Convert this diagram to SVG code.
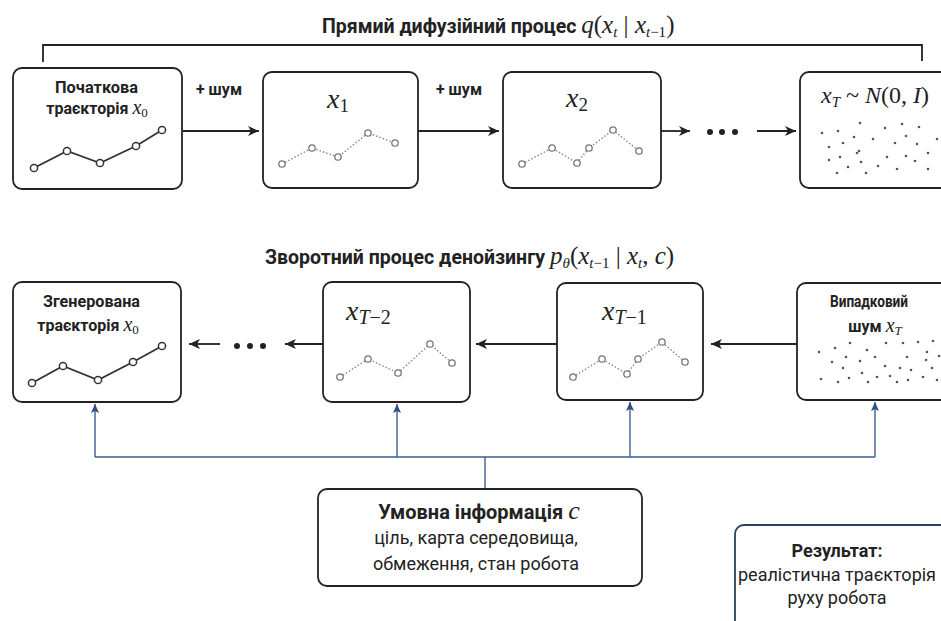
<svg xmlns="http://www.w3.org/2000/svg" width="941" height="621" viewBox="0 0 941 621">
<defs>
<style>
.box{fill:#fff;stroke:#222;stroke-width:1.8}
.lbl{font-family:Roboto,"Liberation Sans",sans-serif;font-weight:700;font-size:16px;fill:#222;text-anchor:middle}
.title{font-family:Roboto,"Liberation Sans",sans-serif;font-weight:700;font-size:19.5px;fill:#222;text-anchor:start}
.m{font-family:"Liberation Serif","DejaVu Serif",serif;font-style:italic;font-weight:400}
.r{font-family:"Liberation Serif","DejaVu Serif",serif;font-style:normal;font-weight:400}
.big{font-family:"Liberation Serif","DejaVu Serif",serif;font-style:italic;font-size:28px;fill:#222;text-anchor:start}
.txt{font-family:Roboto,"Liberation Sans",sans-serif;font-size:18px;fill:#222;text-anchor:middle}
.conn{fill:none;stroke:#222;stroke-width:1.8}
.blue{fill:none;stroke:#3b5e94;stroke-width:1.4}
.solid{fill:none;stroke:#333;stroke-width:1.8}
.dot{fill:none;stroke:#888;stroke-width:1.4;stroke-dasharray:1.5 2}
.pt{fill:#fff;stroke:#333;stroke-width:1.5}
.pg{fill:#fff;stroke:#777;stroke-width:1.3}
.n{fill:#555}
</style>
<marker id="ah" markerUnits="userSpaceOnUse" markerWidth="12" markerHeight="12" refX="11" refY="6" orient="auto">
<path d="M0,1 L11,6 L0,11 L3,6 Z" fill="#222"/>
</marker>
<marker id="bh" markerUnits="userSpaceOnUse" markerWidth="10" markerHeight="12" refX="9" refY="5" orient="auto">
<path d="M0,1 L9,5 L0,9 L2,5 Z" fill="#2f4f80"/>
</marker>
</defs>
<rect width="941" height="621" fill="#fff"/>

<!-- titles -->
<text class="title" x="322" y="33">Прямий дифузійний процес <tspan class="m" font-size="25">q</tspan><tspan class="r" font-size="25">(</tspan><tspan class="m" font-size="25">x</tspan><tspan class="m" font-size="15" dy="4">t</tspan><tspan class="r" font-size="25" dy="-4"> | </tspan><tspan class="m" font-size="25">x</tspan><tspan class="m" font-size="15" dy="4">t</tspan><tspan class="r" font-size="15">−1</tspan><tspan class="r" font-size="25" dy="-4">)</tspan></text>
<text class="title" x="265" y="264">Зворотний процес денойзингу <tspan class="m" font-size="25">p</tspan><tspan class="m" font-size="15" dy="4">θ</tspan><tspan class="r" font-size="25" dy="-4">(</tspan><tspan class="m" font-size="25">x</tspan><tspan class="m" font-size="15" dy="4">t</tspan><tspan class="r" font-size="15">−1</tspan><tspan class="r" font-size="25" dy="-4"> | </tspan><tspan class="m" font-size="25">x</tspan><tspan class="m" font-size="15" dy="4">t</tspan><tspan class="r" font-size="25" dy="-4">, </tspan><tspan class="m" font-size="25">c</tspan><tspan class="r" font-size="25">)</tspan></text>

<!-- connectors -->
<g id="connectors">
<path class="conn" d="M43,62 V45 H922 V61"/>
<line class="conn" x1="183" y1="131" x2="259" y2="131" marker-end="url(#ah)"/>
<line class="conn" x1="418" y1="131" x2="499" y2="131" marker-end="url(#ah)"/>
<line class="conn" x1="661" y1="131" x2="690" y2="131" marker-end="url(#ah)"/>
<line class="conn" x1="757" y1="131" x2="796" y2="131" marker-end="url(#ah)"/>
<line class="conn" x1="797" y1="344" x2="711" y2="344" marker-end="url(#ah)"/>
<line class="conn" x1="557" y1="344" x2="476" y2="344" marker-end="url(#ah)"/>
<line class="conn" x1="323" y1="344" x2="285" y2="344" marker-end="url(#ah)"/>
<line class="conn" x1="220" y1="344" x2="189" y2="344" marker-end="url(#ah)"/>
<g fill="#222">
<circle cx="710" cy="132" r="3"/><circle cx="722" cy="132" r="3"/><circle cx="735" cy="132" r="3"/>
<circle cx="237" cy="346" r="3"/><circle cx="250" cy="346" r="3"/><circle cx="263" cy="346" r="3"/>
</g>
<text class="lbl" x="219" y="95">+ шум</text>
<text class="lbl" x="459" y="95">+ шум</text>
<path class="blue" d="M95,457 H875 M485,457 V489"/>
<line class="blue" x1="95" y1="457" x2="95" y2="404" marker-end="url(#bh)"/>
<line class="blue" x1="397" y1="457" x2="397" y2="404" marker-end="url(#bh)"/>
<line class="blue" x1="630" y1="457" x2="630" y2="402" marker-end="url(#bh)"/>
<line class="blue" x1="875" y1="457" x2="875" y2="402" marker-end="url(#bh)"/>
</g>

<!-- top row -->
<g id="x0-start">
<rect class="box" x="13" y="68" width="169" height="121" rx="9"/>
<text class="lbl" x="96.5" y="93" style="font-size:16.5px" textLength="83" lengthAdjust="spacingAndGlyphs">Початкова</text>
<text class="lbl" x="97" y="114">траєкторія <tspan class="m" font-size="20" font-weight="400">x</tspan><tspan class="r" font-size="13" dy="3">0</tspan></text>
<polyline class="solid" points="34,168 67,151 100,163 136,146 162,130"/>
<circle class="pt" cx="34" cy="168" r="3.6"/><circle class="pt" cx="67" cy="151" r="3.6"/><circle class="pt" cx="100" cy="163" r="3.6"/><circle class="pt" cx="136" cy="146" r="3.6"/><circle class="pt" cx="162" cy="130" r="3.6"/>
</g>
<g id="x1">
<rect class="box" x="263" y="72" width="155" height="116" rx="9"/>
<text class="big" x="327" y="108">x<tspan class="r" font-size="19" dy="4">1</tspan></text>
<polyline class="dot" points="282,164 312,148 338,157 368,133 395,143"/>
<circle class="pg" cx="282" cy="164" r="3.2"/><circle class="pg" cx="312" cy="148" r="3.2"/><circle class="pg" cx="338" cy="157" r="3.2"/><circle class="pg" cx="368" cy="133" r="3.2"/><circle class="pg" cx="395" cy="143" r="3.2"/>
</g>
<g id="x2">
<rect class="box" x="503" y="72" width="158" height="116" rx="9"/>
<text class="big" x="566" y="107">x<tspan class="r" font-size="19" dy="4">2</tspan></text>
<polyline class="dot" points="522,164 552,148 577,163 589,148 613,130 639,151"/>
<circle class="pg" cx="522" cy="164" r="3.2"/><circle class="pg" cx="552" cy="148" r="3.2"/><circle class="pg" cx="577" cy="163" r="3.2"/><circle class="pg" cx="589" cy="148" r="3.2"/><circle class="pg" cx="613" cy="130" r="3.2"/><circle class="pg" cx="639" cy="151" r="3.2"/>
</g>
<g id="xT">
<rect class="box" x="800" y="72" width="170" height="116" rx="9"/>
<text class="big" x="821" y="103" style="font-size:24px">x<tspan class="m" font-size="15" dy="4">T</tspan><tspan class="r" dy="-4"> ~ </tspan>N<tspan class="r">(0, </tspan>I<tspan class="r">)</tspan></text>
<g class="n">
<circle cx="822" cy="133" r="1.3"/><circle cx="838" cy="131" r="1.3"/><circle cx="860" cy="123" r="1.3"/><circle cx="885" cy="128" r="1.3"/><circle cx="902" cy="124" r="1.3"/><circle cx="919" cy="127" r="1.3"/><circle cx="854" cy="137" r="1.3"/><circle cx="873" cy="139" r="1.3"/><circle cx="906" cy="136" r="1.3"/><circle cx="937" cy="139" r="1.3"/><circle cx="829" cy="147" r="1.3"/><circle cx="843" cy="143" r="1.3"/><circle cx="859" cy="151" r="1.3"/><circle cx="895" cy="143" r="1.3"/><circle cx="917" cy="144" r="1.3"/><circle cx="840" cy="157" r="1.3"/><circle cx="857" cy="153" r="1.3"/><circle cx="887" cy="157" r="1.3"/><circle cx="906" cy="156" r="1.3"/><circle cx="928" cy="153" r="1.3"/><circle cx="829" cy="160" r="1.3"/><circle cx="848" cy="167" r="1.3"/><circle cx="861" cy="162" r="1.3"/><circle cx="878" cy="166" r="1.3"/><circle cx="897" cy="169" r="1.3"/><circle cx="915" cy="161" r="1.3"/><circle cx="837" cy="173" r="1.3"/><circle cx="866" cy="173" r="1.3"/><circle cx="928" cy="169" r="1.3"/>
</g>
</g>

<!-- bottom row -->
<g id="x0-generated">
<rect class="box" x="13" y="282" width="168" height="120" rx="9"/>
<text class="lbl" x="91.5" y="307" style="font-size:16.5px" textLength="97" lengthAdjust="spacingAndGlyphs">Згенерована</text>
<text class="lbl" x="88" y="331">траєкторія <tspan class="m" font-size="20" font-weight="400">x</tspan><tspan class="r" font-size="13" dy="3">0</tspan></text>
<polyline class="solid" points="32,383 63,366 98,380 133,362 162,346"/>
<circle class="pt" cx="32" cy="383" r="3.6"/><circle class="pt" cx="63" cy="366" r="3.6"/><circle class="pt" cx="98" cy="380" r="3.6"/><circle class="pt" cx="133" cy="362" r="3.6"/><circle class="pt" cx="162" cy="346" r="3.6"/>
</g>
<g id="xT-2">
<rect class="box" x="323" y="282" width="147" height="120" rx="9"/>
<text class="big" x="346" y="320">x<tspan class="m" font-size="20" dy="4">T</tspan><tspan class="r" font-size="20">−2</tspan></text>
<polyline class="dot" points="340,377 368,359 398,373 430,344 452,363"/>
<circle class="pg" cx="340" cy="377" r="3.2"/><circle class="pg" cx="368" cy="359" r="3.2"/><circle class="pg" cx="398" cy="373" r="3.2"/><circle class="pg" cx="430" cy="344" r="3.2"/><circle class="pg" cx="452" cy="363" r="3.2"/>
</g>
<g id="xT-1">
<rect class="box" x="557" y="283" width="146" height="117" rx="9"/>
<text class="big" x="602" y="320">x<tspan class="m" font-size="20" dy="4">T</tspan><tspan class="r" font-size="20">−1</tspan></text>
<polyline class="dot" points="573,377 602,359 627,374 638,359 662,342 685,362"/>
<circle class="pg" cx="573" cy="377" r="3.2"/><circle class="pg" cx="602" cy="359" r="3.2"/><circle class="pg" cx="627" cy="374" r="3.2"/><circle class="pg" cx="638" cy="359" r="3.2"/><circle class="pg" cx="662" cy="342" r="3.2"/><circle class="pg" cx="685" cy="362" r="3.2"/>
</g>
<g id="noise-xT">
<rect class="box" x="797" y="283" width="170" height="117" rx="9"/>
<text class="lbl" x="869" y="307" textLength="78" lengthAdjust="spacingAndGlyphs">Випадковий</text>
<text class="lbl" x="875" y="332">шум <tspan class="m" font-size="20" font-weight="400">x</tspan><tspan class="m" font-size="13" font-weight="400" dy="3">T</tspan></text>
<g class="n">
<circle cx="819" cy="352" r="1.3"/><circle cx="835" cy="348" r="1.3"/><circle cx="850" cy="343" r="1.3"/><circle cx="867" cy="350" r="1.3"/><circle cx="886" cy="343" r="1.3"/><circle cx="903" cy="343" r="1.3"/><circle cx="918" cy="342" r="1.3"/><circle cx="933" cy="341" r="1.3"/><circle cx="846" cy="357" r="1.3"/><circle cx="860" cy="361" r="1.3"/><circle cx="875" cy="357" r="1.3"/><circle cx="907" cy="357" r="1.3"/><circle cx="927" cy="352" r="1.3"/><circle cx="939" cy="356" r="1.3"/><circle cx="832" cy="362" r="1.3"/><circle cx="843" cy="368" r="1.3"/><circle cx="862" cy="373" r="1.3"/><circle cx="885" cy="366" r="1.3"/><circle cx="900" cy="368" r="1.3"/><circle cx="911" cy="370" r="1.3"/><circle cx="926" cy="360" r="1.3"/><circle cx="932" cy="368" r="1.3"/><circle cx="821" cy="379" r="1.3"/><circle cx="838" cy="382" r="1.3"/><circle cx="849" cy="378" r="1.3"/><circle cx="868" cy="382" r="1.3"/><circle cx="877" cy="377" r="1.3"/><circle cx="890" cy="376" r="1.3"/><circle cx="897" cy="382" r="1.3"/><circle cx="908" cy="380" r="1.3"/><circle cx="923" cy="377" r="1.3"/><circle cx="937" cy="380" r="1.3"/>
</g>
</g>

<g id="condition">
<rect class="box" x="318" y="489" width="324" height="97" rx="9"/>
<text class="txt" x="479" y="519" style="font-size:20px;font-weight:700">Умовна інформація <tspan class="m" font-size="26" font-weight="700">c</tspan></text>
<text class="txt" x="476" y="544">ціль, карта середовища,</text>
<text class="txt" x="476" y="570">обмеження, стан робота</text>
</g>
<g id="result">
<rect x="735" y="525" width="230" height="120" rx="9" fill="#fff" stroke="#2c3e63" stroke-width="1.8"/>
<text class="txt" x="837" y="557" style="font-weight:700">Результат:</text>
<text class="txt" x="837" y="581">реалістична траєкторія</text>
<text class="txt" x="837" y="604">руху робота</text>
</g>
</svg>
